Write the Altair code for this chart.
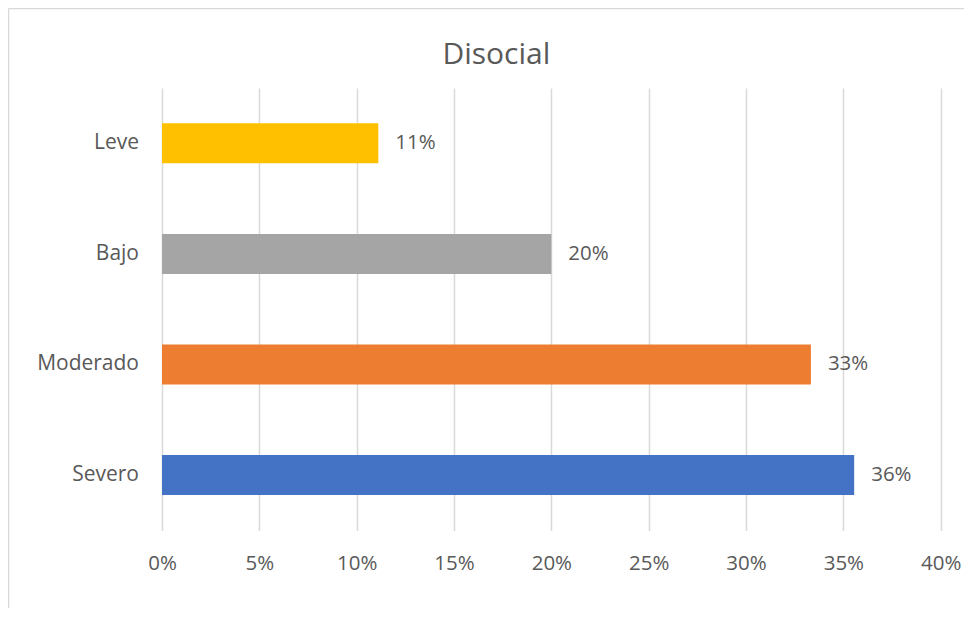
import altair as alt
import pandas as pd

categories = ["Leve", "Bajo", "Moderado", "Severo"]
values = [5 / 45, 9 / 45, 15 / 45, 16 / 45]
colors = ["#FFC000", "#A5A5A5", "#ED7D31", "#4472C4"]
x_ticks = [0, 0.05, 0.10, 0.15, 0.20, 0.25, 0.30, 0.35, 0.40]

df = pd.DataFrame({"cat": categories, "val": values})

FONT = "Open Sans"
TXT = "#595959"
W, H = 778.7, 442.4

y_enc = alt.Y("cat:N", sort=categories, title=None,
              axis=alt.Axis(labelFontSize=21, labelColor=TXT, labelFont=FONT,
                            labelPadding=23.5, ticks=False, tickSize=0, domain=False, grid=False))
x_enc = alt.X("val:Q", title=None,
              scale=alt.Scale(domain=[0, 0.4], nice=False),
              axis=alt.Axis(values=x_ticks, format=".0%", labelFontSize=20.5, labelColor=TXT,
                            labelFont=FONT, labelPadding=23.5, ticks=False, tickSize=0,
                            domain=False, grid=True, gridColor="#d9d9d9", gridWidth=1.5,
                            labelFlush=False, labelOverlap=False))

bars = alt.Chart(df).mark_bar(size=40).encode(
    x=x_enc,
    y=y_enc,
    color=alt.Color("cat:N", scale=alt.Scale(domain=categories, range=colors), legend=None),
)

labels = alt.Chart(df).mark_text(align="left", baseline="middle", dx=17, fontSize=20.5,
                                 font=FONT, color=TXT).encode(
    x=alt.X("val:Q"),
    y=alt.Y("cat:N", sort=categories),
    text=alt.Text("val:Q", format=".0%"),
)

border = alt.Data(values=[{}])
top_border = alt.Chart(border).mark_rule(color="#d9d9d9", strokeWidth=1.5).encode(
    x=alt.value(-153.5), x2=alt.value(W + 40), y=alt.value(-79.5))
left_border = alt.Chart(border).mark_rule(color="#d9d9d9", strokeWidth=1.5).encode(
    x=alt.value(-153.5), y=alt.value(-79.5), y2=alt.value(H + 100))

chart = alt.layer(top_border, left_border, bars, labels).properties(
    width=W, height=H,
    title=alt.Title("Disocial", fontSize=30, font=FONT, color=TXT, fontWeight="normal",
                    anchor="middle", dx=-55, baseline="alphabetic", offset=-86),
    autosize=alt.AutoSizeParams(type="none"),
    padding={"left": 154, "top": 80, "right": 23, "bottom": 78},
).configure(background="white", view=alt.ViewConfig(stroke=None))

chart.save("out.html", embed_options={"renderer": "svg", "actions": False})
